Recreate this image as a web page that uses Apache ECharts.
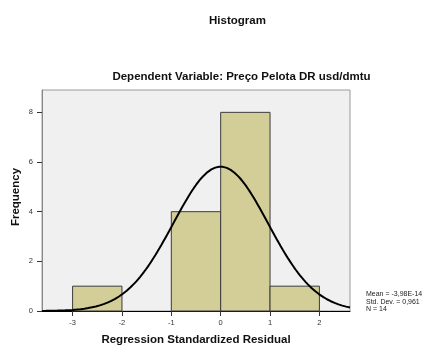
<!DOCTYPE html>
<html>
<head>
<meta charset="utf-8">
<script src="https://cdn.jsdelivr.net/npm/echarts@6/dist/echarts.min.js"></script>
<style>
  html, body { margin: 0; padding: 0; background: #ffffff; }
  #chart { width: 429px; height: 346px; }
</style>
</head>
<body>
<div id="chart"></div>
<script>
// Histogram bins (lower edge, upper edge) and their frequencies
const binStarts = [-3, -2, -1, 0, 1];
const binEnds = [-2, -1, 0, 1, 2];
const frequencies = [1, 0, 4, 8, 1];

// Summary statistics shown beside the plot
const statMean = -3.98e-14;
const statStdDev = 0.961;
const statN = 14;
const statLines = ['Mean = -3,98E-14', 'Std. Dev. = 0,961', 'N = 14'];

// Axis ticks
const xTicks = [-3, -2, -1, 0, 1, 2];
const yTicks = [0, 2, 4, 6, 8];

const xMin = -3.62, xMax = 2.62;
const binWidth = 1;

// Normal curve scaled to the histogram (N * bin width * density)
const curve = [];
const steps = 160;
for (let i = 0; i <= steps; i++) {
  const x = xMin + (xMax - xMin) * i / steps;
  const z = (x - statMean) / statStdDev;
  const y = statN * binWidth * Math.exp(-0.5 * z * z) / (statStdDev * Math.sqrt(2 * Math.PI));
  curve.push([x, y]);
}

const binData = binStarts.map((s, i) => [s, binEnds[i], frequencies[i]]).filter(d => d[2] > 0);

const FONT = '"Liberation Sans", Arial, sans-serif';

const chart = echarts.init(document.getElementById('chart'), null, { renderer: 'canvas' });
chart.setOption({
  animation: false,
  backgroundColor: '#ffffff',
  textStyle: { fontFamily: FONT },
  title: [
    { text: 'Histogram', left: 232.5, top: 10, textAlign: 'center',
      textStyle: { fontSize: 11.5, fontWeight: 'bold', color: '#111', fontFamily: FONT } },
    { text: 'Dependent Variable: Preço Pelota DR usd/dmtu', left: 236.5, top: 66, textAlign: 'center',
      textStyle: { fontSize: 11.5, fontWeight: 'bold', color: '#111', fontFamily: FONT } }
  ],
  grid: {
    left: 42, right: 79, top: 90, bottom: 35,
    containLabel: false, outerBoundsMode: 'none',
    show: true, backgroundColor: '#F0F0F0', borderColor: '#9a9a9a', borderWidth: 1
  },
  xAxis: {
    type: 'value', min: xMin, max: xMax,
    name: 'Regression Standardized Residual', nameLocation: 'middle', nameGap: 23,
    nameTextStyle: { fontSize: 11.5, fontWeight: 'bold', color: '#111', fontFamily: FONT },
    axisLine: { show: true, onZero: false, lineStyle: { color: '#000', width: 1 } },
    axisTick: { show: true, inside: false, length: 5, customValues: xTicks, lineStyle: { color: '#333' } },
    axisLabel: { customValues: xTicks, fontSize: 7.5, color: '#333', margin: 8 },
    splitLine: { show: false }
  },
  yAxis: {
    type: 'value', min: 0, max: 8.9, interval: 2,
    axisLine: { show: true, onZero: false, lineStyle: { color: '#888', width: 1 } },
    axisTick: { show: true, inside: false, length: 5, lineStyle: { color: '#333' } },
    axisLabel: { fontSize: 7.5, color: '#333', margin: 9, showMaxLabel: false,
      formatter: v => (yTicks.indexOf(v) >= 0 ? String(v) : '') },
    splitLine: { show: false }
  },
  series: [
    {
      type: 'custom',
      data: binData,
      renderItem: function (params, api) {
        const p0 = api.coord([api.value(0), api.value(2)]);
        const p1 = api.coord([api.value(1), 0]);
        return {
          type: 'rect',
          shape: { x: p0[0], y: p0[1], width: p1[0] - p0[0], height: p1[1] - p0[1] },
          style: { fill: '#D3CE97', stroke: '#3a3a3a', lineWidth: 1 }
        };
      },
      encode: { x: [0, 1], y: 2 },
      z: 2
    },
    {
      type: 'line',
      data: curve,
      showSymbol: false,
      smooth: false,
      lineStyle: { color: '#000', width: 2 },
      clip: false,
      z: 3
    }
  ],
  graphic: [
    // y-axis title, rotated
    {
      type: 'text', x: 16, y: 197, rotation: Math.PI / 2,
      style: { text: 'Frequency', font: 'bold 11.5px ' + FONT, fill: '#111',
        align: 'center', verticalAlign: 'middle' }
    }
  ].concat(statLines.map((t, i) => ({
    type: 'text', left: 366, top: 291 + i * 7.5,
    style: { text: t, font: '7px ' + FONT, fill: '#222' }
  })))
});
</script>
</body>
</html>
